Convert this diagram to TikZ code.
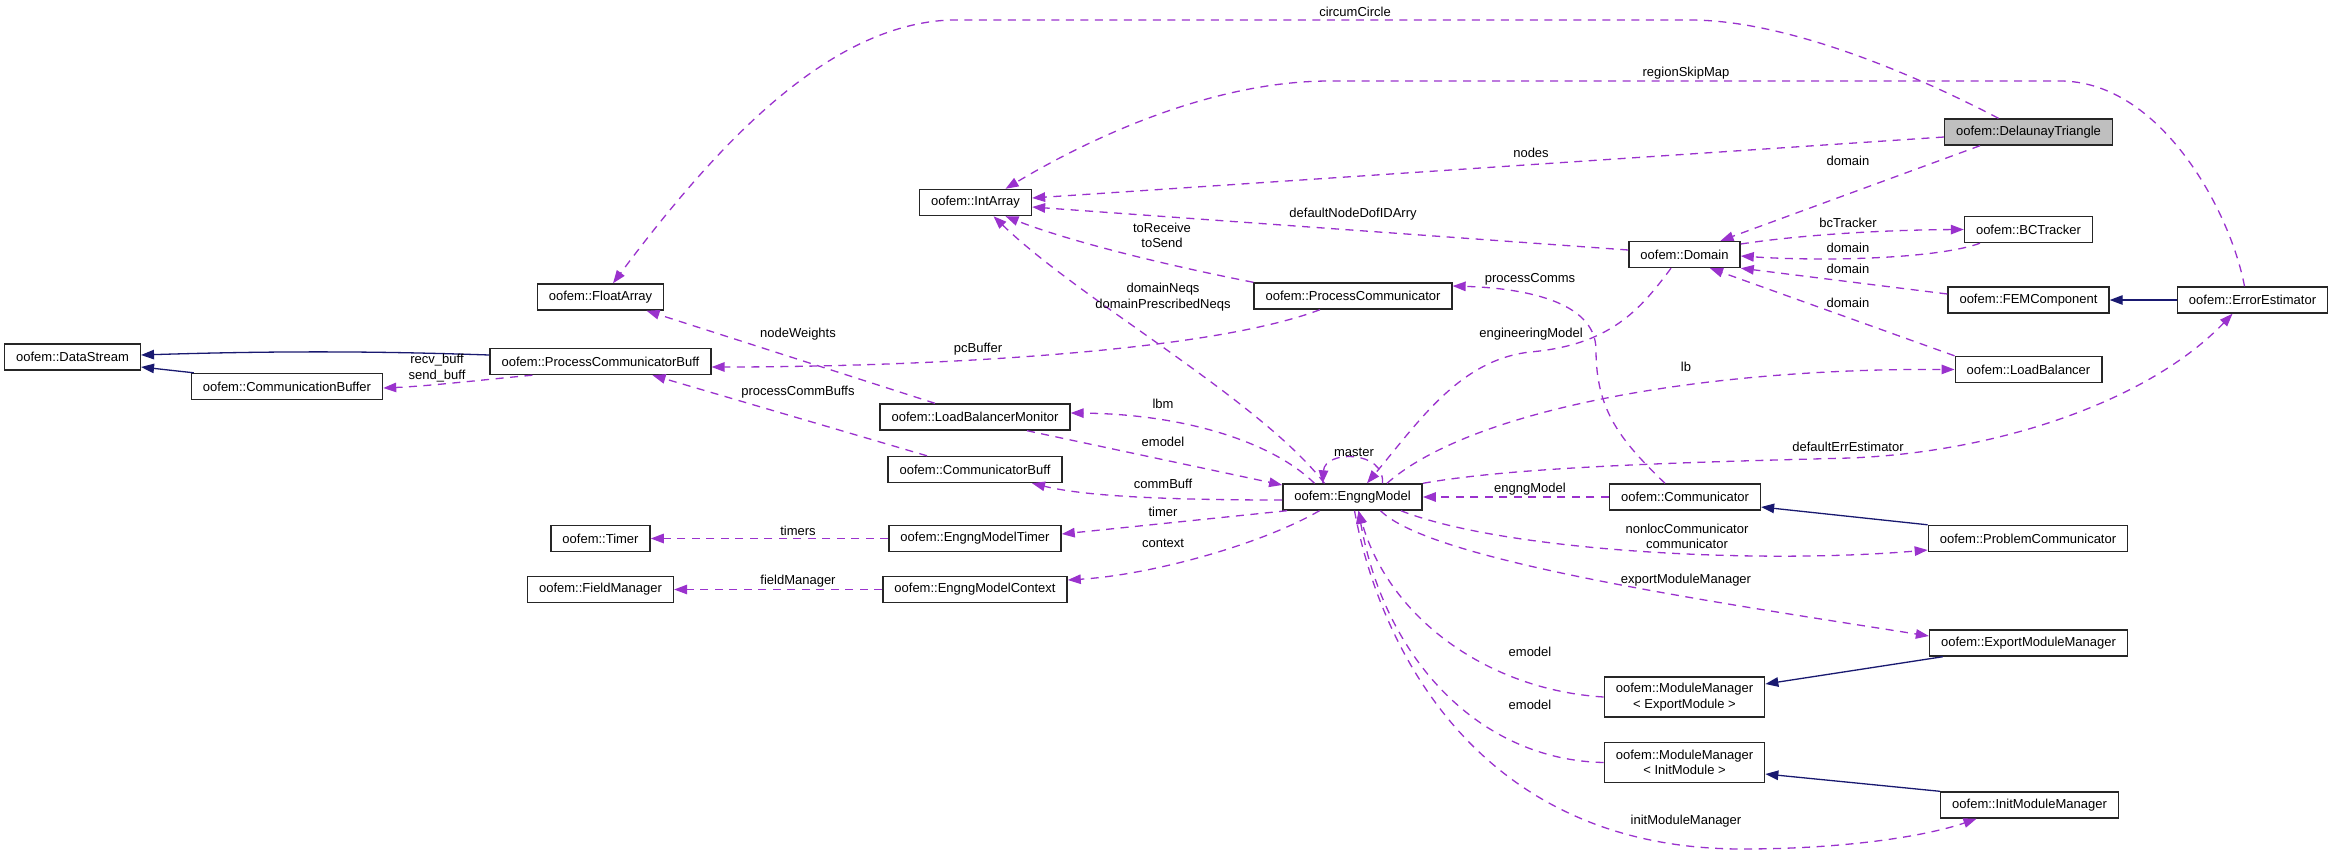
\documentclass[tikz,border=0pt]{standalone}
\usepackage{fontspec}
\setmainfont{Liberation Sans}
\usetikzlibrary{arrows.meta}
\definecolor{edgepurple}{HTML}{9A32CD}
\definecolor{basenavy}{HTML}{191970}
\definecolor{focusgray}{HTML}{BFBFBF}

\begin{document}
\begin{tikzpicture}[>={Triangle[length=13pt,width=9.5pt]}, x=1pt, y=-1pt,
        cls/.style={draw=black!85, line width=1.4pt, inner xsep=11.5pt, inner ysep=3pt, minimum height=26pt, font=\fontsize{13}{15.5}\selectfont},
        twoline/.style={cls, align=center, minimum height=40pt},
        lbl/.style={inner sep=0pt, align=center, font=\fontsize{13}{15.5}\selectfont},
        member/.style={->, draw=edgepurple, line width=1.3pt, dash pattern=on 8pt off 6.5pt},
        derived/.style={<-, draw=basenavy, line width=1.3pt}]
        \useasboundingbox (0,0) rectangle (2333,852);
        % classes
        \node[cls] (ds) at (72.5,357) {oofem::DataStream};
        \node[cls] (cbuf) at (287,386.5) {oofem::CommunicationBuffer};
        \node[cls] (pcb) at (600.5,361.5) {oofem::ProcessCommunicatorBuff};
        \node[cls] (fa) at (600.5,297) {oofem::FloatArray};
        \node[cls] (timer) at (600.5,538.5) {oofem::Timer};
        \node[cls] (fm) at (600.5,589.5) {oofem::FieldManager};
        \node[cls] (ia) at (975.5,202.5) {oofem::IntArray};
        \node[cls] (lbm) at (975,417) {oofem::LoadBalancerMonitor};
        \node[cls] (cb) at (975,469.5) {oofem::CommunicatorBuff};
        \node[cls] (emt) at (975,538.5) {oofem::EngngModelTimer};
        \node[cls] (emc) at (975,589.5) {oofem::EngngModelContext};
        \node[cls] (pc) at (1353,296) {oofem::ProcessCommunicator};
        \node[cls] (em) at (1352.5,497) {oofem::EngngModel};
        \node[cls] (dom) at (1684.5,254.5) {oofem::Domain};
        \node[cls] (comm) at (1685,497) {oofem::Communicator};
        \node[twoline] (mme) at (1684.5,697) {oofem::ModuleManager\\< ExportModule >};
        \node[twoline] (mmi) at (1684.5,762.5) {oofem::ModuleManager\\< InitModule >};
        \node[cls, fill=focusgray] (dt) at (2028.5,132) {oofem::DelaunayTriangle};
        \node[cls] (bct) at (2028.5,229.5) {oofem::BCTracker};
        \node[cls] (femc) at (2028.5,300) {oofem::FEMComponent};
        \node[cls] (lb) at (2028.5,369.5) {oofem::LoadBalancer};
        \node[cls] (prc) at (2028,538.5) {oofem::ProblemCommunicator};
        \node[cls] (emm) at (2028.5,643) {oofem::ExportModuleManager};
        \node[cls] (imm) at (2029.5,805) {oofem::InitModuleManager};
        \node[cls] (ee) at (2252.5,300) {oofem::ErrorEstimator};
        % inheritance
        \draw[derived] ([yshift=2pt]ds.east) .. controls (300,350) and (400,352) .. ([yshift=6.5pt]pcb.west);
        \draw[derived] ([yshift=-10pt]ds.east) -- ([xshift=3pt]cbuf.north west);
        \draw[derived] (femc.east) -- (ee.west);
        \draw[derived] ([yshift=-10pt]comm.east) -- (prc.north west);
        \draw[derived] ([yshift=13pt]mme.east) -- ([xshift=14pt]emm.south west);
        \draw[derived] ([yshift=-11.5pt]mmi.east) -- (imm.north west);
        % members
        \draw[member] ([xshift=-30pt]dt.north) .. controls (1900,67) and (1780,20) .. (1690,20) -- (950,20)
            .. controls (830,25) and (720,140) .. ([xshift=12.5pt]fa.north);
        \draw[member] ([xshift=-8pt]ee.north) .. controls (2230,210) and (2160,81) .. (2060,81) -- (1330,81)
            .. controls (1200,81) and (1070,150) .. ([xshift=30pt]ia.north);
        \draw[member] ([yshift=-5pt]dt.west) -- ([yshift=4.5pt]ia.east);
        \draw[member] ([xshift=-48.5pt]dt.south) -- ([xshift=36pt]dom.north);
        \draw[member] ([yshift=4.5pt]dom.west) -- ([yshift=-4.5pt]ia.east);
        \draw[member] ([yshift=10.5pt]dom.east) .. controls (1800,235) and (1880,230) .. (bct.west);
        \draw[member] ([xshift=-48.5pt]bct.south) .. controls (1940,258) and (1830,262) .. ([yshift=-1.5pt]dom.east);
        \draw[member] ([yshift=6pt]femc.west) -- (dom.south east);
        \draw[member] (lb.north west) -- ([xshift=25.5pt]dom.south);
        \draw[member] (pc.north west) .. controls (1150,262) and (1060,238) .. ([xshift=30pt]ia.south);
        \draw[member] ([xshift=-28pt]em.north) .. controls (1260,400) and (1080,300) .. ([xshift=18pt]ia.south);
        \draw[member] ([xshift=-20pt]comm.north) .. controls (1620,440) and (1596,410) .. (1596,350)
            .. controls (1596,300) and (1520,288) .. ([yshift=10pt]pc.east);
        \draw[member] ([xshift=-13.5pt]dom.south) .. controls (1640,310) and (1610,345) .. (1530,352)
            .. controls (1460,360) and (1420,420) .. ([xshift=14.5pt]em.north);
        \draw[member] ([xshift=34.5pt]em.north) .. controls (1470,410) and (1700,368) .. (lb.west);
        \draw[member] (em.north east) .. controls (1520,466) and (1700,462) .. (1850,458)
            .. controls (2000,452) and (2150,400) .. ([xshift=-20pt]ee.south);
        \draw[member] (comm.west) -- (em.east);
        \draw[member] ([xshift=-22pt]em.south east) .. controls (1500,550) and (1750,565) .. ([yshift=-11.5pt]prc.west);
        \draw[member] ([xshift=28pt]em.south) .. controls (1430,560) and (1700,600) .. ([yshift=7pt]emm.west);
        \draw[member] (mme.west) .. controls (1490,690) and (1390,620) .. ([xshift=6pt]em.south);
        \draw[member] (mmi.west) .. controls (1480,760) and (1385,660) .. ([xshift=6pt]em.south);
        \draw[member] ([xshift=2pt]em.south) .. controls (1380,650) and (1480,849) .. (1742,849)
            .. controls (1850,849) and (1930,835) .. ([xshift=-53pt]imm.south);
        \draw[member] ([xshift=30pt]em.north) .. controls (1385,450) and (1325,450) .. ([xshift=-30pt]em.north);
        \draw[member] ([xshift=52pt]lbm.south) -- ([yshift=12pt]em.west);
        \draw[member] ([xshift=-38pt]em.north) .. controls (1270,440) and (1180,414) .. ([yshift=4pt]lbm.east);
        \draw[member] ([yshift=-3pt]em.west) .. controls (1150,500) and (1080,495) .. ([xshift=57pt]cb.south);
        \draw[member] ([xshift=5pt]em.south west) -- ([yshift=4.5pt]emt.east);
        \draw[member] ([xshift=-33pt]em.south) .. controls (1260,545) and (1150,575) .. ([yshift=9.5pt]emc.east);
        \draw[member] (emt.west) -- (timer.east);
        \draw[member] (emc.west) -- (fm.east);
        \draw[member] ([xshift=-33pt]pc.south) .. controls (1200,355) and (900,367) .. ([yshift=-5.5pt]pcb.east);
        \draw[member] ([xshift=-40pt]lbm.north) -- ([xshift=46pt]fa.south);
        \draw[member] ([xshift=-48pt]cb.north) -- ([xshift=52pt]pcb.south);
        \draw[member] ([xshift=43pt]pcb.south west) .. controls (480,380) and (430,386) .. ([yshift=-1.5pt]cbuf.east);
        % labels
        \node[lbl] (l-circ) at (1355,12) {circumCircle};
        \node[lbl] (l-skip) at (1686,73) {regionSkipMap};
        \node[lbl] (l-nodes) at (1531,153) {nodes};
        \node[lbl] (l-dom1) at (1848,161) {domain};
        \node[lbl] (l-dof) at (1353,214) {defaultNodeDofIDArry};
        \node[lbl] (l-bct) at (1848,223) {bcTracker};
        \node[lbl] (l-dom2) at (1848,248) {domain};
        \node[lbl] (l-dom3) at (1848,269) {domain};
        \node[lbl] (l-dom4) at (1848,303) {domain};
        \node[lbl] (l-tors) at (1162,235.5) {toReceive\\toSend};
        \node[lbl] (l-neqs) at (1163,297) {domainNeqs\\domainPrescribedNeqs};
        \node[lbl] (l-pcom) at (1530,279) {processComms};
        \node[lbl] (l-engm) at (1531,334) {engineeringModel};
        \node[lbl] (l-lb) at (1686,367) {lb};
        \node[lbl] (l-err) at (1848,447) {defaultErrEstimator};
        \node[lbl] (l-enggm) at (1530,489) {engngModel};
        \node[lbl] (l-nloc) at (1687,536.5) {nonlocCommunicator\\communicator};
        \node[lbl] (l-expm) at (1686,580) {exportModuleManager};
        \node[lbl] (l-emod1) at (1530,652) {emodel};
        \node[lbl] (l-emod2) at (1530,705) {emodel};
        \node[lbl] (l-initm) at (1686,821) {initModuleManager};
        \node[lbl] (l-master) at (1354,452) {master};
        \node[lbl] (l-lbm) at (1163,404) {lbm};
        \node[lbl] (l-emod3) at (1163,442) {emodel};
        \node[lbl] (l-cbuf) at (1163,484) {commBuff};
        \node[lbl] (l-timer) at (1163,512) {timer};
        \node[lbl] (l-ctx) at (1163,543) {context};
        \node[lbl] (l-timers) at (798,531) {timers};
        \node[lbl] (l-fm) at (798,581) {fieldManager};
        \node[lbl] (l-pcbuf) at (978,349) {pcBuffer};
        \node[lbl] (l-nw) at (798,334) {nodeWeights};
        \node[lbl] (l-pcbs) at (798,392) {processCommBuffs};
        \node[lbl] (l-buff) at (437,368) {recv\_buff\\send\_buff};
    \end{tikzpicture}
\end{document}
